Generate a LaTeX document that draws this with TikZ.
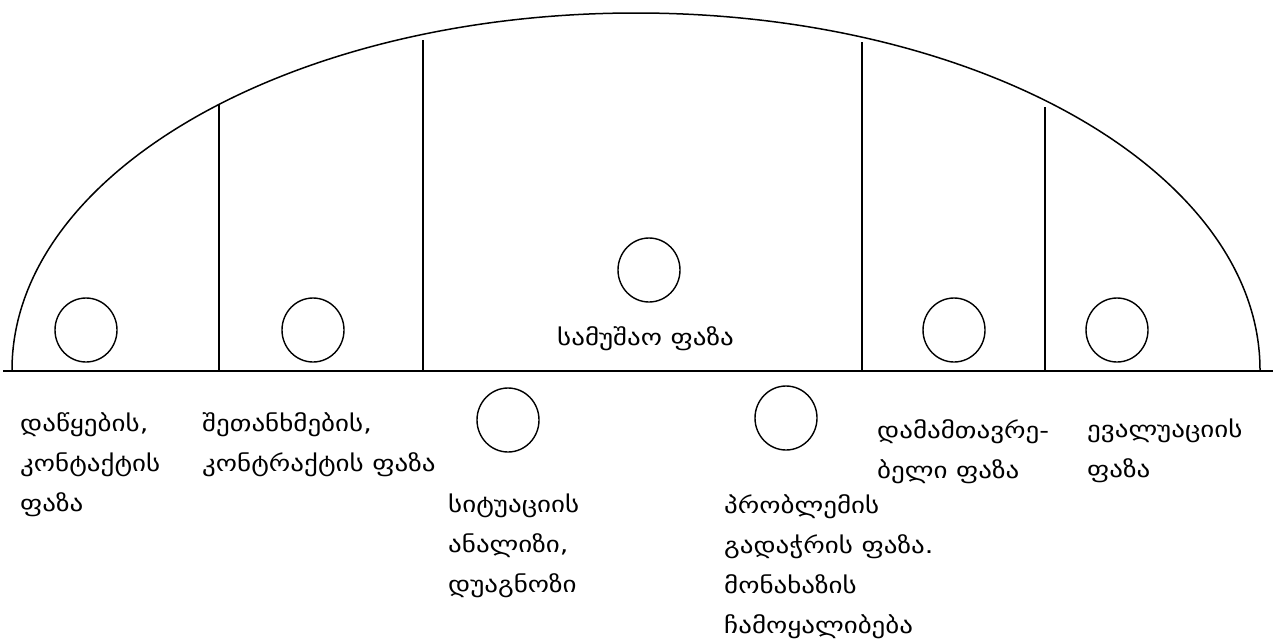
\documentclass[tikz,border=0pt]{standalone}
\usepackage{fontspec}
\newfontfamily\geo[FakeStretch=1.2]{DejaVu Sans}
\usetikzlibrary{shapes.geometric}
\begin{document}
\begin{tikzpicture}[x=1pt,y=-1pt,
  ring/.style={draw,line width=1.4pt,ellipse,minimum width=62pt,minimum height=64pt,inner sep=0pt},
  lbl/.style={anchor=north west,inner sep=0pt,align=left,font=\geo\fontsize{22.5}{40}\selectfont},
  divider/.style={line width=1.4pt}]
\useasboundingbox[fill=white] (0,0) rectangle (1273,643);
% dome
\draw[line width=1.5pt] (12,370) arc[start angle=180,end angle=360,x radius=624,y radius=357];
\draw[line width=2.4pt] (3,371) -- (1273,371);
% dividers
\draw[divider] (219,105) -- (219,370);
\draw[divider] (423,40) -- (423,370);
\draw[divider] (862,42) -- (862,370);
\draw[divider] (1045,107) -- (1045,370);
% circles
\node[ring] (c1) at (86,330) {};
\node[ring] (c2) at (313,330) {};
\node[ring] (c3) at (649,270) {};
\node[ring] (c4) at (508,420) {};
\node[ring] (c5) at (786,418) {};
\node[ring] (c6) at (954,330) {};
\node[ring] (c7) at (1117,330) {};
% labels
\node[lbl] (t1) at (20,412) {დაწყების,\\კონტაქტის\\ფაზა};
\node[lbl] (t2) at (202,412) {შეთანხმების,\\კონტრაქტის ფაზა};
\node[lbl] (t3) at (557,326) {სამუშაო ფაზა};
\node[lbl] (t4) at (448,494) {სიტუაციის\\ანალიზი,\\დუაგნოზი};
\node[lbl] (t5) at (724,494) {პრობლემის\\გადაჭრის ფაზა.\\მონახაზის\\ჩამოყალიბება};
\node[lbl] (t6) at (877,419) {დამამთავრე-\\ბელი ფაზა};
\node[lbl] (t7) at (1087,419) {ევალუაციის\\ფაზა};
\end{tikzpicture}
\end{document}
